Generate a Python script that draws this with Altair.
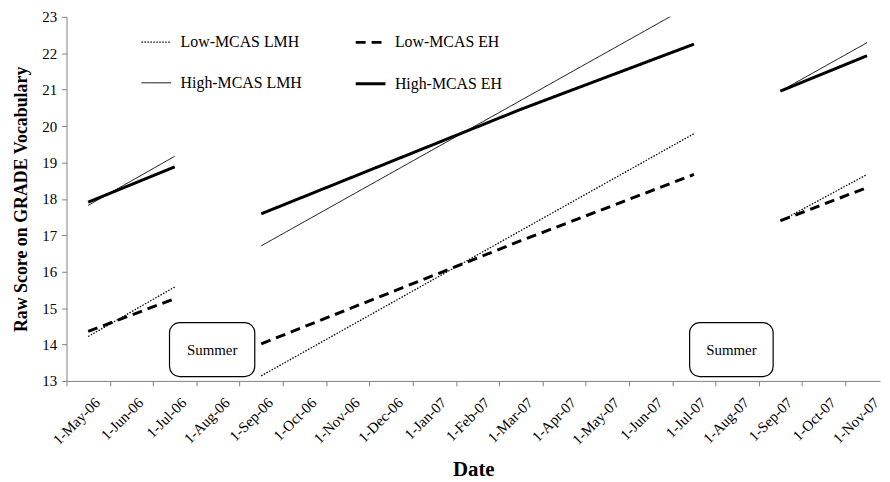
import json
import altair as alt
import pandas as pd

# ---- data -------------------------------------------------------------
month_labels = ["1-May-06", "1-Jun-06", "1-Jul-06", "1-Aug-06", "1-Sep-06",
                "1-Oct-06", "1-Nov-06", "1-Dec-06", "1-Jan-07", "1-Feb-07",
                "1-Mar-07", "1-Apr-07", "1-May-07", "1-Jun-07", "1-Jul-07",
                "1-Aug-07", "1-Sep-07", "1-Oct-07", "1-Nov-07"]

series_names = ["Low-MCAS LMH", "Low-MCAS EH", "High-MCAS LMH", "High-MCAS EH"]

# month index (0 = 1-May-06) of the points in each school-year segment
seg1_months = [0, 2]
lmh_seg2_months = [4, 14]
eh_seg2_months = [4, 10, 14]
seg3_months = [16, 18]

low_lmh = [[14.22, 15.58], [13.14, 19.79], [17.39, 18.67]]
low_eh = [[14.36, 15.26], [14.02, 16.85, 18.67], [17.40, 18.31]]
high_lmh = [[17.82, 19.17], [16.71, 23.37], [20.96, 22.29]]
high_eh = [[17.91, 18.88], [17.59, 20.46, 22.25], [20.96, 21.93]]

# summer annotation boxes (month index / score units)
summer_label = ["Summer", "Summer"]
summer_x0 = [1.88, 13.90]
summer_x1 = [3.85, 15.83]
summer_y0 = [13.12, 13.12]
summer_y1 = [14.60, 14.60]
summer_yc = [13.86, 13.86]

# ---- tables -----------------------------------------------------------
rows = []
def add(name, values, seg2_months):
    months = [seg1_months, seg2_months, seg3_months]
    for s, (ms, vs) in enumerate(zip(months, values)):
        for m, v in zip(ms, vs):
            rows.append({"series": name, "key": f"{name}-{s}", "m": m, "v": v})

add("Low-MCAS LMH", low_lmh, lmh_seg2_months)
add("Low-MCAS EH", low_eh, eh_seg2_months)
add("High-MCAS LMH", high_lmh, lmh_seg2_months)
add("High-MCAS EH", high_eh, eh_seg2_months)
df = pd.DataFrame(rows)

summer = pd.DataFrame({
    "label": summer_label, "x0": summer_x0, "x1": summer_x1,
    "y0": summer_y0, "y1": summer_y1, "yc": summer_yc,
})
summer["xc"] = (summer["x0"] + summer["x1"]) / 2

# ---- chart ------------------------------------------------------------
FONT = "Liberation Serif"
W, H = 820, 367
x_min, x_max = -0.5, 18.3
half = W / (x_max - x_min) / 2

x_scale = alt.Scale(domain=[x_min, x_max], nice=False, zero=False)
y_scale = alt.Scale(domain=[13, 23], nice=False, zero=False)

legend = alt.Legend(
    title=None, orient="none", legendX=74, legendY=9, columns=2,
    direction="horizontal",
    symbolType="stroke", symbolSize=900, symbolStrokeColor="black",
    labelFont=FONT, labelFontSize=16, labelColor="black", labelOffset=8,
    columnPadding=47, rowPadding=17, labelLimit=300,
)

x_axis = alt.Axis(
    values=list(range(len(month_labels))),
    labelExpr=json.dumps(month_labels) + "[datum.value]",
    title="Date", labelAngle=-45, tickOffset=-half, labelOffset=half + 4,
    labelPadding=9, titlePadding=11, titleFontSize=21, labelFontSize=15,
    labelFont=FONT, titleFont=FONT, labelColor="black",
    grid=False, labelOverlap=False,
)
y_axis = alt.Axis(
    values=list(range(13, 24)), title="Raw Score on GRADE Vocabulary",
    grid=False, labelFontSize=15, titleFontSize=18, titlePadding=11,
    labelFont=FONT, titleFont=FONT, labelColor="black",
    labelPadding=5, labelOverlap=False,
)

lines = alt.Chart(df).mark_line(color="black", clip=True, strokeCap="butt").encode(
    x=alt.X("m:Q", scale=x_scale, axis=x_axis),
    y=alt.Y("v:Q", scale=y_scale, axis=y_axis),
    strokeDash=alt.StrokeDash(
        "series:N",
        scale=alt.Scale(domain=series_names,
                        range=[[1.5, 1.5], [10, 6], [1, 0], [1, 0]]),
        legend=legend),
    strokeWidth=alt.StrokeWidth(
        "series:N",
        scale=alt.Scale(type="ordinal", domain=series_names,
                        range=[1.3, 3, 1, 3]),
        legend=legend),
    detail="key:N",
)

boxes = alt.Chart(summer).mark_rect(
    fill="white", stroke="black", strokeWidth=1.2, cornerRadius=10
).encode(
    x=alt.X("x0:Q", scale=x_scale, axis=x_axis), x2="x1:Q",
    y=alt.Y("y0:Q", scale=y_scale, axis=y_axis), y2="y1:Q",
)

box_text = alt.Chart(summer).mark_text(
    font=FONT, fontSize=15, color="black"
).encode(
    x=alt.X("xc:Q", scale=x_scale, axis=x_axis),
    y=alt.Y("yc:Q", scale=y_scale, axis=y_axis),
    text="label:N",
)

chart = alt.layer(lines, boxes, box_text).properties(
    width=W, height=H,
    padding={"left": 5, "top": 0, "right": 0, "bottom": 0},
).configure_view(stroke=None).configure_axis(
    domainColor="#808080", tickColor="#808080", tickSize=5,
    labelFont=FONT, labelColor="black", titleFont=FONT,
    titleFontWeight="bold", titleColor="black",
)

chart.save("out.html", embed_options={"renderer": "svg", "actions": False})
